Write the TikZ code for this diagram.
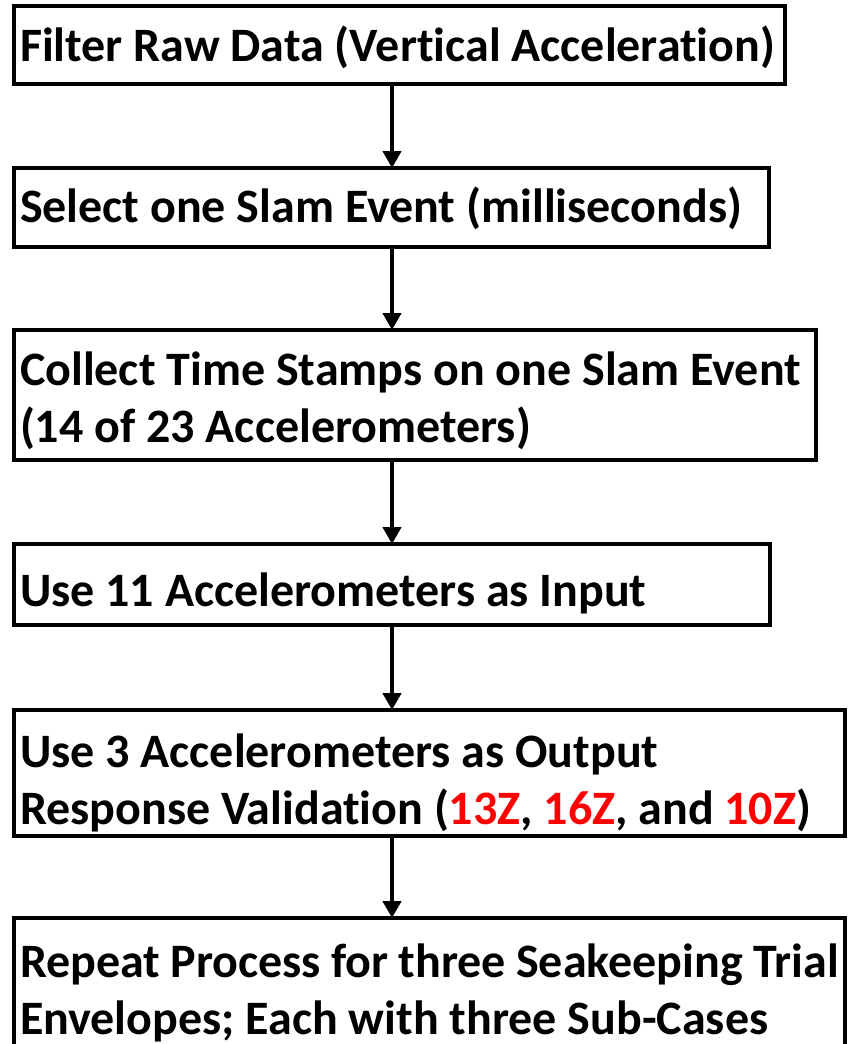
\documentclass[tikz,border=0pt]{standalone}
\usepackage{fontspec}
\setmainfont{Carlito}[Ligatures=NoCommon]
\usepackage{xcolor}
\usetikzlibrary{arrows.meta}

\newcommand{\redtag}[1]{\textcolor{red}{#1}}

\begin{document}
\begin{tikzpicture}[x=1pt,y=-1pt,
        procbox/.style={draw,line width=4pt,outer sep=0pt,anchor=north west,
            align=flush left,inner xsep=6pt,inner ysep=0pt,text height=46pt,
            font=\fontsize{48}{57}\selectfont\bfseries},
        flow/.style={line width=4.5pt,-{Triangle[width=18pt,length=17pt]}}]

        % Page size
        \clip (0,0) rectangle (849,1044);

        % The six steps, top to bottom
        \node[procbox,minimum width=771pt,minimum height=78pt,text width=759pt,text depth=14pt] (filter) at (14,6)
            {Filter Raw Data (Vertical Acceleration)};
        \node[procbox,minimum width=755pt,minimum height=79pt,text width=743pt,text depth=17pt] (select) at (14,168)
            {Select one Slam Event (milliseconds)};
        \node[procbox,minimum width=802pt,minimum height=130pt,text width=790pt,text depth=66pt] (collect) at (14,330)
            {Collect Time Stamps on one Slam Event\\(14 of 23 Accelerometers)};
        \node[procbox,minimum width=756pt,minimum height=81pt,text width=744pt,text depth=3pt] (input) at (14,544)
            {Use 11 Accelerometers as Input};
        \node[procbox,minimum width=831pt,minimum height=126pt,text width=819pt,text depth=58pt] (output) at (14,710)
            {Use 3 Accelerometers as Output\\Response Validation (\redtag{13Z}, \redtag{16Z}, and \redtag{10Z})};
        \node[procbox,minimum width=831pt,minimum height=139pt,text width=819pt,text depth=67pt] (repeat) at (14,918)
            {Repeat Process for three Seakeeping Trial\\Envelopes; Each with three Sub-Cases};

        % Connectors
        \coordinate (axis) at (392,0);
        \foreach \a/\b in {filter/select, select/collect, collect/input, input/output, output/repeat} {
            \draw[flow] (axis |- \a.south) -- (axis |- \b.north);
        }
    \end{tikzpicture}
\end{document}
